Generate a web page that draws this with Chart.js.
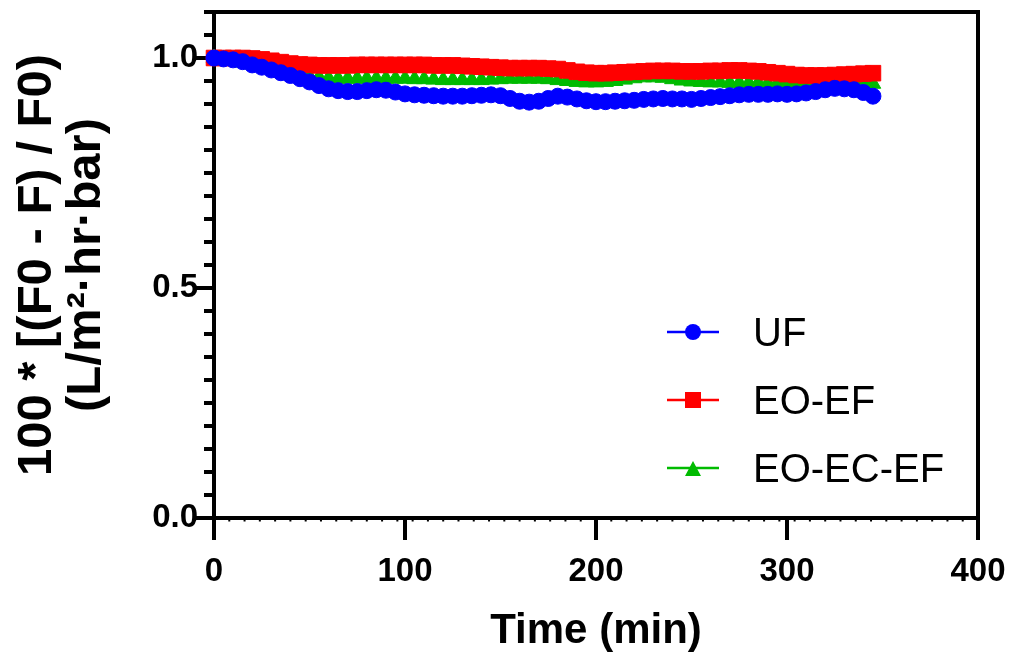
<!DOCTYPE html>
<html lang="en">
<head>
  <meta charset="UTF-8">
  <title>Normalized flux vs time</title>
  <style>
    * { box-sizing: border-box; margin: 0; padding: 0; }
    body { background: #fff; }
    .wrap { position: relative; width: 1015px; height: 660px; }
    .legend-item { position: absolute; left: 665px; height: 50px; }
    .legend-item svg { position: absolute; left: 0; top: 13px; }
    .legend-item span {
      position: absolute; left: 88px; top: 0; white-space: nowrap;
      font: 40px/50px 'Liberation Sans', Arial, sans-serif; color: #000;
    }
  </style>
</head>
<body>
  <div class="wrap">
    <canvas id="chart"></canvas>
    <div id="legend"></div>
  </div>

  <script src="https://cdn.jsdelivr.net/npm/chart.js"></script>
  <script>
    const timeMin = [
      0, 5, 10, 15, 20, 25, 30, 35, 40, 45, 50, 55, 60, 65, 70, 75, 80, 85, 90, 95,
      100, 105, 110, 115, 120, 125, 130, 135, 140, 145, 150, 155, 160, 165, 170, 175,
      180, 185, 190, 195, 200, 205, 210, 215, 220, 225, 230, 235, 240, 245, 250, 255,
      260, 265, 270, 275, 280, 285, 290, 295, 300, 305, 310, 315, 320, 325, 330, 335,
      340, 345
    ];
    const uf = [
      1.000, 0.998, 0.996, 0.992, 0.985, 0.980, 0.974, 0.968, 0.962, 0.955,
      0.948, 0.940, 0.933, 0.929, 0.927, 0.927, 0.929, 0.931, 0.930, 0.926,
      0.922, 0.920, 0.919, 0.918, 0.917, 0.917, 0.917, 0.918, 0.919, 0.920,
      0.918, 0.912, 0.906, 0.904, 0.906, 0.912, 0.917, 0.915, 0.911, 0.907,
      0.905, 0.905, 0.906, 0.907, 0.908, 0.910, 0.911, 0.912, 0.911, 0.911,
      0.910, 0.912, 0.914, 0.916, 0.918, 0.920, 0.921, 0.921, 0.921, 0.922,
      0.921, 0.922, 0.924, 0.927, 0.931, 0.934, 0.933, 0.931, 0.925, 0.917
    ];
    const eoEf = [
      1.000, 1.000, 1.000, 1.000, 0.999, 0.997, 0.994, 0.991, 0.988, 0.986,
      0.985, 0.984, 0.984, 0.984, 0.984, 0.985, 0.985, 0.985, 0.985, 0.985,
      0.985, 0.985, 0.985, 0.984, 0.984, 0.984, 0.983, 0.982, 0.981, 0.980,
      0.979, 0.978, 0.978, 0.978, 0.978, 0.977, 0.976, 0.973, 0.970, 0.968,
      0.967, 0.967, 0.968, 0.969, 0.970, 0.971, 0.972, 0.972, 0.972, 0.971,
      0.971, 0.971, 0.972, 0.972, 0.973, 0.973, 0.972, 0.971, 0.969, 0.967,
      0.965, 0.963, 0.962, 0.962, 0.962, 0.963, 0.964, 0.965, 0.966, 0.967
    ];
    const eoEcEf = [
      1.000, 0.997, 0.994, 0.990, 0.986, 0.982, 0.977, 0.972, 0.967, 0.963,
      0.960, 0.958, 0.956, 0.955, 0.955, 0.955, 0.955, 0.955, 0.955, 0.955,
      0.955, 0.954, 0.954, 0.953, 0.952, 0.952, 0.952, 0.952, 0.952, 0.953,
      0.954, 0.955, 0.955, 0.955, 0.955, 0.954, 0.952, 0.950, 0.948, 0.947,
      0.947, 0.948, 0.950, 0.953, 0.956, 0.958, 0.958, 0.957, 0.954, 0.951,
      0.949, 0.948, 0.947, 0.947, 0.946, 0.946, 0.946, 0.946, 0.945, 0.945,
      0.945, 0.945, 0.945, 0.945, 0.945, 0.945, 0.945, 0.945, 0.945, 0.944
    ];
    const seriesNames = ['UF', 'EO-EF', 'EO-EC-EF'];
    const seriesColors = ['#0000ff', '#ff0000', '#00bb00'];
    const xTicks = [0, 100, 200, 300, 400];
    const yTicks = [0, 0.5, 1.0];

    const FONT = "'Liberation Sans', Arial, sans-serif";
    const series = [uf, eoEf, eoEcEf];
    const markers = [
      { style: 'circle', radius: 8 },
      { style: 'rect', radius: 11 },
      { style: 'triangle', radius: 9 }
    ];

    // minor tick positions (axis decoration only)
    const xMinor = [];
    for (let v = 8; v < 400; v += 8) if (v % 100) xMinor.push(v);
    const yMinor = [];
    for (let k = 1; k <= 22; k++) if (k % 10) yMinor.push(k * 0.05);

    const axisFrame = {
      id: 'axisFrame',
      beforeDatasetsDraw(chart) {
        const { ctx, chartArea: a, scales: { x, y } } = chart;
        ctx.save();
        ctx.strokeStyle = '#000';
        ctx.lineWidth = 4;
        ctx.beginPath();
        ctx.rect(a.left, a.top, a.right - a.left, a.bottom - a.top);
        yTicks.forEach(v => {
          const py = y.getPixelForValue(v);
          ctx.moveTo(a.left - 19, py); ctx.lineTo(a.left, py);
        });
        yMinor.forEach(v => {
          const py = y.getPixelForValue(v);
          ctx.moveTo(a.left - 10, py); ctx.lineTo(a.left, py);
        });
        xTicks.forEach(v => {
          const px = x.getPixelForValue(v);
          ctx.moveTo(px, a.bottom); ctx.lineTo(px, a.bottom + 22);
        });
        ctx.stroke();
        ctx.lineWidth = 2;
        ctx.beginPath();
        xMinor.forEach(v => {
          const px = x.getPixelForValue(v);
          ctx.moveTo(px, a.bottom - 1); ctx.lineTo(px, a.bottom + 3.5);
        });
        ctx.stroke();
        ctx.restore();
      }
    };

    new Chart(document.getElementById('chart'), {
      type: 'line',
      data: {
        datasets: seriesNames.map((name, i) => ({
          label: name,
          data: timeMin.map((t, j) => ({ x: t, y: series[i][j] })),
          borderColor: seriesColors[i],
          backgroundColor: seriesColors[i],
          borderWidth: 2,
          pointStyle: markers[i].style,
          pointRadius: markers[i].radius,
          pointBorderWidth: 1,
          clip: false
        }))
      },
      options: {
        responsive: true,
        maintainAspectRatio: false,
        animation: false,
        events: [],
        layout: { padding: { left: 0, top: 7, right: 37, bottom: 0 } },
        plugins: { legend: { display: false }, tooltip: { enabled: false } },
        scales: {
          x: {
            type: 'linear', min: 0, max: 400,
            grid: { display: false, drawTicks: false },
            border: { display: false },
            afterBuildTicks: s => { s.ticks = xTicks.map(v => ({ value: v })); },
            afterFit: s => { s.height = 142; s.paddingLeft = 0; s.paddingRight = 0; },
            ticks: {
              padding: 34, color: '#000', maxRotation: 0, autoSkip: false,
              font: { family: FONT, size: 33, weight: 'bold' }
            },
            title: {
              display: true, text: 'Time (min)', color: '#000',
              font: { family: FONT, size: 42, weight: 'bold', lineHeight: 1.2 },
              padding: { top: 0, bottom: 3 }
            }
          },
          y: {
            min: 0, max: 1.1,
            grid: { display: false, drawTicks: false },
            border: { display: false },
            afterBuildTicks: s => { s.ticks = yTicks.map(v => ({ value: v })); },
            afterFit: s => { s.width = 214; s.paddingTop = 0; s.paddingBottom = 0; },
            ticks: {
              padding: 16, color: '#000',
              font: { family: FONT, size: 33, weight: 'bold' },
              callback: v => v.toFixed(1)
            },
            title: {
              display: true, text: ['100 * [(F0 - F) / F0)', '(L/m\u00B2\u00B7hr\u00B7bar)'],
              color: '#000',
              font: { family: FONT, size: 49, weight: 'bold', lineHeight: 1.02 },
              padding: { top: 12, bottom: 0 }
            }
          }
        }
      },
      plugins: [axisFrame]
    });

    // legend, built from the series arrays
    const shapes = [
      c => `<circle cx="28" cy="12" r="8" fill="${c}"/>`,
      c => `<rect x="20" y="4" width="16" height="16" fill="${c}"/>`,
      c => `<polygon points="28,5 36,20 20,20" fill="${c}"/>`
    ];
    const rowY = [332, 400, 468];
    const legendEl = document.getElementById('legend');
    seriesNames.forEach((name, i) => {
      const item = document.createElement('div');
      item.className = 'legend-item';
      item.style.top = (rowY[i] - 25) + 'px';
      item.innerHTML =
        `<svg width="56" height="24" viewBox="0 0 56 24">` +
        `<line x1="2" y1="12" x2="54" y2="12" stroke="${seriesColors[i]}" stroke-width="2.5"/>` +
        shapes[i](seriesColors[i]) + `</svg><span>${name}</span>`;
      legendEl.append(item);
    });
  </script>
</body>
</html>
